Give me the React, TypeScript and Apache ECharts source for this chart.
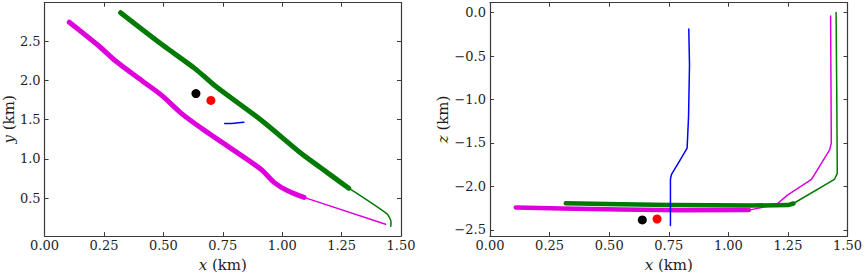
import React, { useEffect, useRef } from "react";
import * as echarts from "echarts";

// ---- Data (km) ----
// Left panel: plan view (x, y)
const magentaThickXY = [[0.104,2.741],[0.230,2.435],[0.299,2.246],[0.410,1.995],[0.494,1.806],[0.577,1.577],[0.661,1.388],[0.772,1.158],[0.912,0.864],[0.967,0.697],[1.023,0.593],[1.092,0.509]];
const magentaThinXY = [[1.092,0.509],[1.435,0.166]];
const greenThickXY = [[0.320,2.862],[0.494,2.456],[0.633,2.150],[0.717,1.932],[0.912,1.492],[1.078,1.074],[1.162,0.886],[1.28,0.626]];
const greenThinXY = [[1.28,0.626],[1.441,0.299],[1.454,0.236],[1.458,0.194],[1.457,0.141]];
const blueXY = [[0.758,1.451],[0.80,1.455],[0.839,1.467]];
const blackDotXY = [[0.637,1.832]];
const redDotXY = [[0.700,1.744]];

// Right panel: section view (x, z)
const magentaThickXZ = [[0.108,-2.242],[0.30,-2.255],[0.55,-2.265],[0.80,-2.275],[1.086,-2.273]];
const magentaThinXZ = [[1.086,-2.273],[1.203,-2.205],[1.248,-2.10],[1.349,-1.92],[1.425,-1.58],[1.432,-1.50],[1.429,-0.038]];
const greenThickXZ = [[0.318,-2.193],[0.55,-2.205],[0.76,-2.214],[1.10,-2.22],[1.25,-2.215],[1.273,-2.197]];
const greenThinXZ = [[1.273,-2.197],[1.445,-1.92],[1.457,-1.85],[1.455,-1.0],[1.452,0.0]];
const blueXZ = [[0.757,-2.45],[0.757,-1.92],[0.761,-1.864],[0.795,-1.71],[0.827,-1.56],[0.833,-1.2],[0.837,-0.6],[0.834,-0.19]];
const blackDotXZ = [[0.639,-2.386]];
const redDotXZ = [[0.701,-2.375]];

// Axis ticks
const yTicks = [0.5, 1.0, 1.5, 2.0, 2.5];
const zTicks = [-2.5, -2.0, -1.5, -1.0, -0.5, 0.0];

const FONT = "DejaVu Serif";
const AXIS_COLOR = "#3a3a3a";
const TEXT_COLOR = "#1e1e1e";
const MAGENTA = "#dd00dd";
const GREEN = "#007a00";
const BLUE = "#0000ff";

const fmt1 = (v: number) => (v < -1e-9 ? "\u2212" : "") + Math.abs(v).toFixed(1);
const fmt2 = (v: number) => v.toFixed(2);

function App() {
  const ref = useRef<HTMLDivElement>(null);
  useEffect(() => {
    if (!ref.current) return;
    const chart = echarts.init(ref.current, undefined, { renderer: "svg" });

    const axisLine = { show: true, onZero: false, lineStyle: { color: AXIS_COLOR, width: 1.2 } };
    const tick = (vals?: number[]) => ({
      show: true,
      inside: true,
      length: 4,
      lineStyle: { color: AXIS_COLOR, width: 1 },
      ...(vals ? { customValues: vals } : {}),
    });
    const labelStyle = { fontFamily: FONT, fontSize: 13, color: TEXT_COLOR };
    const nameStyle = {
      fontFamily: FONT,
      fontSize: 15,
      color: TEXT_COLOR,
      rich: { i: { fontFamily: FONT, fontSize: 15, fontStyle: "italic", color: TEXT_COLOR } },
    };

    const xAxisPair = (gridIndex: number) => [
      {
        type: "value", gridIndex, position: "bottom", min: 0, max: 1.5, interval: 0.25,
        axisLine, axisTick: tick(), splitLine: { show: false },
        axisLabel: { ...labelStyle, margin: 3, formatter: fmt2 },
        name: "{i|x} (km)", nameLocation: "middle", nameGap: 18, nameTextStyle: nameStyle,
      },
      {
        type: "value", gridIndex, position: "top", min: 0, max: 1.5, interval: 0.25,
        axisLine, axisTick: tick(), splitLine: { show: false }, axisLabel: { show: false },
      },
    ];

    const yAxisPair = (gridIndex: number, min: number, max: number, ticks: number[], name: string, nameGap: number) => [
      {
        type: "value", gridIndex, position: "left", min, max,
        axisLine, axisTick: tick(ticks), splitLine: { show: false },
        axisLabel: { ...labelStyle, margin: 4, formatter: fmt1, customValues: ticks },
        name, nameLocation: "middle", nameRotate: 90, nameGap, nameTextStyle: nameStyle,
      },
      {
        type: "value", gridIndex, position: "right", min, max,
        axisLine, axisTick: tick(ticks), splitLine: { show: false },
        axisLabel: { show: false, customValues: ticks },
      },
    ];

    const line = (data: number[][], xi: number, yi: number, color: string, width: number, z: number, smooth = 0) => ({
      type: "line", xAxisIndex: xi, yAxisIndex: yi, data, showSymbol: false, symbol: "none", smooth,
      lineStyle: { color, width, cap: "round", join: "round" }, silent: true, z,
      emphasis: { disabled: true },
    });
    const dot = (data: number[][], xi: number, yi: number, color: string) => ({
      type: "scatter", xAxisIndex: xi, yAxisIndex: yi, data, symbolSize: 9,
      itemStyle: { color, opacity: 1 }, silent: true, z: 10, emphasis: { disabled: true },
    });

    chart.setOption({
      animation: false,
      backgroundColor: "#ffffff",
      textStyle: { fontFamily: FONT, fontSize: 13, color: TEXT_COLOR },
      grid: [
        { left: 41.7, top: 2.7, width: 359.3, height: 236.6 },
        { left: 490, top: 2.7, width: 361.5, height: 236.6 },
      ],
      xAxis: [...xAxisPair(0), ...xAxisPair(1)],
      yAxis: [
        ...yAxisPair(0, 0.015, 2.99, yTicks, "{i|y} (km)", 20),
        ...yAxisPair(1, -2.572, 0.114, zTicks, "{i|z} (km)", 38),
      ],
      series: [
        line(magentaThinXY, 0, 0, MAGENTA, 1.5, 2),
        line(magentaThickXY, 0, 0, MAGENTA, 5, 2, 0.3),
        line(greenThinXY, 0, 0, GREEN, 1.5, 3, 0.3),
        line(greenThickXY, 0, 0, GREEN, 5, 3, 0.3),
        line(blueXY, 0, 0, BLUE, 1.5, 4, 0.3),
        dot(blackDotXY, 0, 0, "#000000"),
        dot(redDotXY, 0, 0, "#ff0000"),

        line(magentaThinXZ, 2, 2, MAGENTA, 1.5, 2),
        line(magentaThickXZ, 2, 2, MAGENTA, 4.5, 2),
        line(greenThinXZ, 2, 2, GREEN, 1.5, 3),
        line(greenThickXZ, 2, 2, GREEN, 4.5, 3),
        line(blueXZ, 2, 2, BLUE, 1.5, 4),
        dot(blackDotXZ, 2, 2, "#000000"),
        dot(redDotXZ, 2, 2, "#ff0000"),
      ],
    });
    return () => chart.dispose();
  }, []);

  return (
    <div
      ref={ref}
      style={{ position: "fixed", left: 0, top: 0, width: 865, height: 277, background: "#fff" }}
    />
  );
}

export default App;
